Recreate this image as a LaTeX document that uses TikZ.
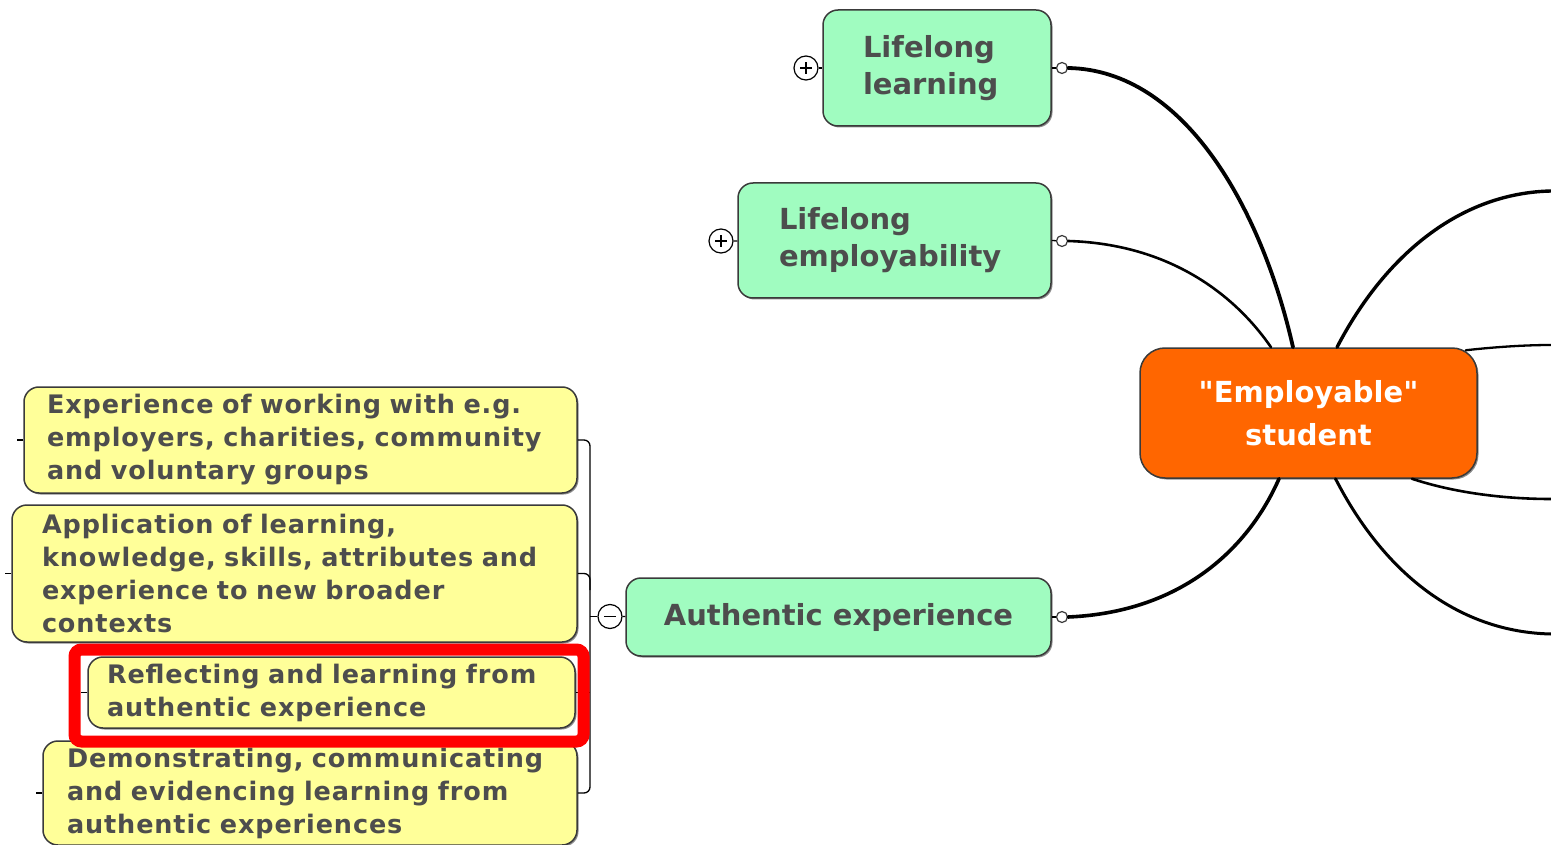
\documentclass[tikz,border=0pt]{standalone}
\usepackage{fontspec}
\setmainfont{DejaVu Sans}[Ligatures=TeXOff]
\newfontfamily\yfont{DejaVu Sans}[Ligatures=TeXOff, LetterSpace=3.5]
\usetikzlibrary{shadows}
\definecolor{greenfill}{HTML}{A0FCC0}
\definecolor{yellowfill}{HTML}{FFFF99}
\definecolor{orangefill}{HTML}{FF6600}
\definecolor{txt}{HTML}{4D4D4D}
\definecolor{edge}{HTML}{3A3A3A}
\tikzset{
  box/.style={draw=edge, line width=1.5pt, rounded corners=15pt, text=txt, inner ysep=0pt,
    drop shadow={shadow xshift=1.5pt, shadow yshift=-1.5pt, opacity=0.45, fill=black}},
  greenbox/.style={box, fill=greenfill, font=\fontsize{29}{37}\selectfont\bfseries, align=left},
  yellowbox/.style={box, fill=yellowfill, font=\yfont\fontsize{25.5}{33}\selectfont\bfseries, align=left},
  centralbox/.style={box, fill=orangefill, rounded corners=25pt, text=white,
    font=\fontsize{29}{43}\selectfont\bfseries, align=center},
  dot/.style={circle, draw=edge, line width=1.2pt, fill=white, minimum size=11pt, inner sep=0pt},
  toggle/.style={circle, draw=black, line width=1.2pt, fill=white, minimum size=24pt, inner sep=0pt},
  stub/.style={draw=black, line width=1.3pt},
  branch/.style={draw=black, line cap=round},
  highlight/.style={draw=red, line width=12pt, rounded corners=7pt, minimum width=509pt,
    minimum height=92pt, inner sep=0pt}
}
\begin{document}
\begin{tikzpicture}[x=1pt, y=-1pt]
\useasboundingbox (0,0) rectangle (1551,845);

% green nodes
\node[greenbox, text width=148pt, inner xsep=40pt, minimum height=116pt] (ll) at (937,68) {Lifelong\\learning};
\node[greenbox, text width=231pt, inner xsep=41pt, minimum height=115pt] (le) at (894.5,240.5) {Lifelong\\employability};
\node[greenbox, align=center, minimum width=425pt, minimum height=78pt] (ae) at (838.5,617) {Authentic experience};
\node[centralbox, minimum width=337pt, minimum height=130pt] (es) at (1308.5,413) {"Employable"\\student};

% yellow nodes
\node[yellowbox, text width=507pt, inner xsep=23pt, minimum height=106pt] (n1) at (300.5,440)
  {Experience of working with e.g.\\employers, charities, community\\and voluntary groups};
\node[yellowbox, text width=505pt, inner xsep=30pt, minimum height=137pt] (n2) at (294.5,573.5)
  {Application of learning,\\knowledge, skills, attributes and\\experience to new broader\\contexts};
\node[yellowbox, text width=449pt, inner xsep=19pt, minimum height=71pt] (n3) at (331.5,692.5)
  {Reflecting and learning from\\authentic experience};
\node[yellowbox, text width=486pt, inner xsep=24pt, minimum height=104pt] (n4) at (310,793)
  {Demonstrating, communicating\\and evidencing learning from\\authentic experiences};

% toggles
\node[toggle] (p1) at (806,68) {};
\node[toggle] (p2) at (721,241) {};
\node[toggle] (m1) at (610,616.5) {};
\draw[line width=1.3pt] ([xshift=-6pt]p1.center) -- ([xshift=6pt]p1.center)
  ([yshift=-6pt]p1.center) -- ([yshift=6pt]p1.center);
\draw[line width=1.3pt] ([xshift=-6pt]p2.center) -- ([xshift=6pt]p2.center)
  ([yshift=-6pt]p2.center) -- ([yshift=6pt]p2.center);
\draw[line width=1.3pt] ([xshift=-6pt]m1.center) -- ([xshift=6pt]m1.center);
\draw[stub] (p1) -- (ll);
\draw[stub] (p2) -- (le);
\draw[stub] (m1) -- (ae);

% small connector circles
\node[dot] (c1) at (1062,68) {};
\node[dot] (c2) at (1062,241) {};
\node[dot] (c3) at (1062,617) {};
\node[dot] (e1) at (1557,191) {};
\node[dot] (e2) at (1557,345) {};
\node[dot] (e3) at (1557,499) {};
\node[dot] (e4) at (1557,634) {};
\draw[stub] (ll.east) -- (c1);
\draw[stub] (le.east) -- (c2);
\draw[stub] (ae.east) -- (c3);

% branches from central node
\draw[branch, line width=3.8pt] (c1.east) .. controls (1185,70) and (1262,210) .. ([xshift=-15.5pt]es.north);
\draw[branch, line width=2.6pt] (c2.east) .. controls (1170,244) and (1235,295) .. ([xshift=-37.5pt]es.north);
\draw[branch, line width=3.6pt] (c3.east) .. controls (1185,612) and (1250,545) .. ([xshift=-29.5pt]es.south);
\draw[branch, line width=3.4pt] ([xshift=28.5pt]es.north) .. controls (1385,255) and (1460,193) .. (e1.west);
\draw[branch, line width=2.3pt] ([xshift=-12pt,yshift=-3pt]es.north east) .. controls (1495,347) and (1525,345) .. (e2.west);
\draw[branch, line width=2.6pt] ([xshift=103.5pt]es.south) .. controls (1455,493) and (1505,499) .. (e3.west);
\draw[branch, line width=3pt] ([xshift=27pt]es.south) .. controls (1385,575) and (1460,632) .. (e4.west);

% bracket joining yellow nodes
\draw[stub, rounded corners=6pt] (n1.east) -- (590,440) -- (590,793) -- (n4.east);
\draw[stub, rounded corners=6pt] (n2.east) -- (590,573.5) -- (590,590);
\draw[stub] (n3.east) -- (590,692.5);
\draw[stub] (590,616.5) -- (m1.west);

% left stubs
\draw[stub] (n1.west) -- ++(-6,0);
\draw[stub] (n2.west) -- ++(-6,0);
\draw[stub] (n3.west) -- ++(-6,0);
\draw[stub] (n4.west) -- ++(-6,0);

% red highlight
\node[highlight] (hl) at (329,695.5) {};
\end{tikzpicture}
\end{document}
